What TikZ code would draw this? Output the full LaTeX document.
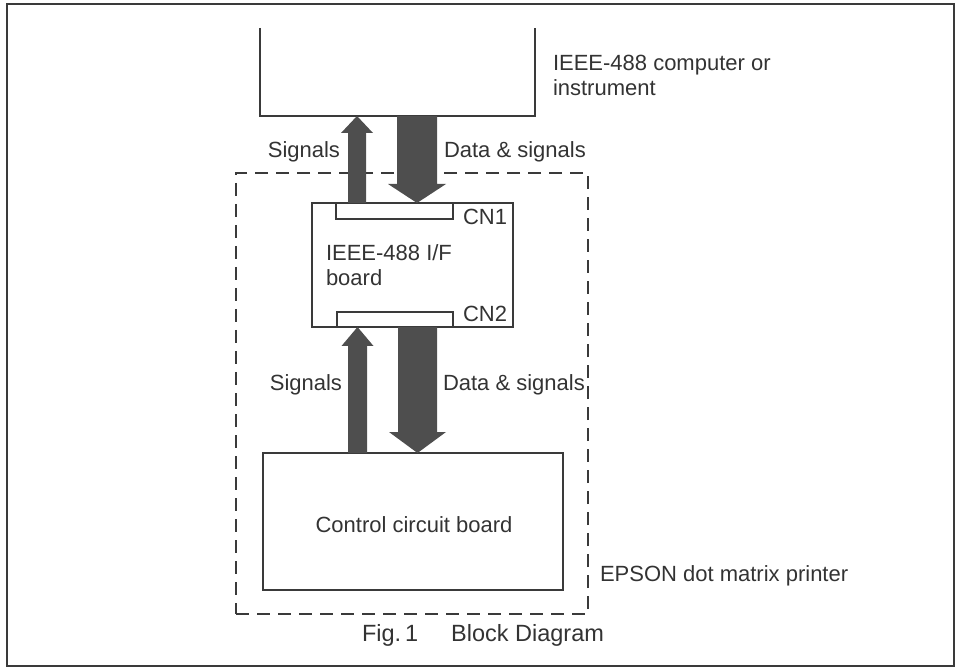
\documentclass[tikz,border=0pt]{standalone}
\usepackage{fontspec}
\setmainfont{Liberation Sans}
\usetikzlibrary{calc}
\definecolor{inkc}{HTML}{3A3A3A}
\definecolor{txtc}{HTML}{333333}
\definecolor{arrc}{HTML}{4E4E4E}
\newcommand\fatarr[5]{%
  \fill[arrc] (#2) -- ($(#2)+(#4,#5)$) -- ($(#2)+(#3,#5)$) -- ($(#1)+(#3,0)$)
    -- ($(#1)+(-#3,0)$) -- ($(#2)+(-#3,#5)$) -- ($(#2)+(-#4,#5)$) -- cycle;}
\begin{document}
\begin{tikzpicture}[x=1pt,y=-1pt,
  every node/.style={inner sep=0pt,outer sep=0pt,text=txtc,
    font=\fontsize{22}{25}\selectfont},
  boxline/.style={draw=inkc,line width=1.3pt},
  blk/.style={boxline,rectangle,minimum width=#1},
  lbl/.style={anchor=base west,align=left},
  dashbox/.style={draw=inkc,line width=1.4pt,dash pattern=on 13pt off 8pt}]
\useasboundingbox (0,0) rectangle (956,668);
% outer frame
\draw[boxline] (7,4) rectangle (954,666);

% boxes
\node[minimum width=275pt,minimum height=88pt] (comp) at (397.5,72) {};
\draw[boxline] (comp.north west) -- (comp.south west) -- (comp.south east) -- (comp.north east);

\node[dashbox,minimum width=352pt,minimum height=441pt] (printer) at (412,393.5) {};

\node[blk=201pt,minimum height=124pt] (ifb) at (412.5,265) {};
\node[blk=117pt,minimum height=16pt] (cn1) at (394.5,211) {};
\node[blk=116pt,minimum height=15pt] (cn2) at (395,319.5) {};
\node[blk=300pt,minimum height=137pt] (ctrl) at (413,521.5) {};

% arrow x positions
\coordinate (xa) at (357,0);
\coordinate (xb) at (417,0);
\coordinate (xc) at (357.5,0);
\coordinate (xd) at (417.5,0);
\fatarr{xa |- ifb.north}{xa |- comp.south}{9}{16}{17}
\fatarr{xb |- comp.south}{xb |- ifb.north}{20}{29}{-19}
\fatarr{xc |- ctrl.north}{xc |- ifb.south}{9.5}{16}{19}
\fatarr{xd |- ifb.south}{xd |- ctrl.north}{19.5}{28.5}{-21}

% labels (base = baseline of last line)
\node[lbl] (lcomp) at (553,95.5) {IEEE-488 computer or\\instrument};
\node[anchor=base east] (lsig1) at (340,158) {Signals};
\node[anchor=base west] (ldat1) at (444,158) {Data \& signals};
\node[anchor=base west] (lcn1) at (463,225) {CN1};
\node[lbl] (lifb) at (326,286) {IEEE-488 I/F\\board};
\node[anchor=base west] (lcn2) at (463,322) {CN2};
\node[anchor=base east] (lsig2) at (342,390) {Signals};
\node[anchor=base west] (ldat2) at (443,390) {Data \& signals};
\node[anchor=base] (lctrl) at (414,532) {Control circuit board};
\node[anchor=base west] (lprn) at (600,581) {EPSON dot matrix printer};
\node[anchor=base west,font=\fontsize{23.5}{27}\selectfont] (lfig) at (362,641)
  {Fig.\,1\hspace{33pt}Block Diagram};
\end{tikzpicture}
\end{document}
